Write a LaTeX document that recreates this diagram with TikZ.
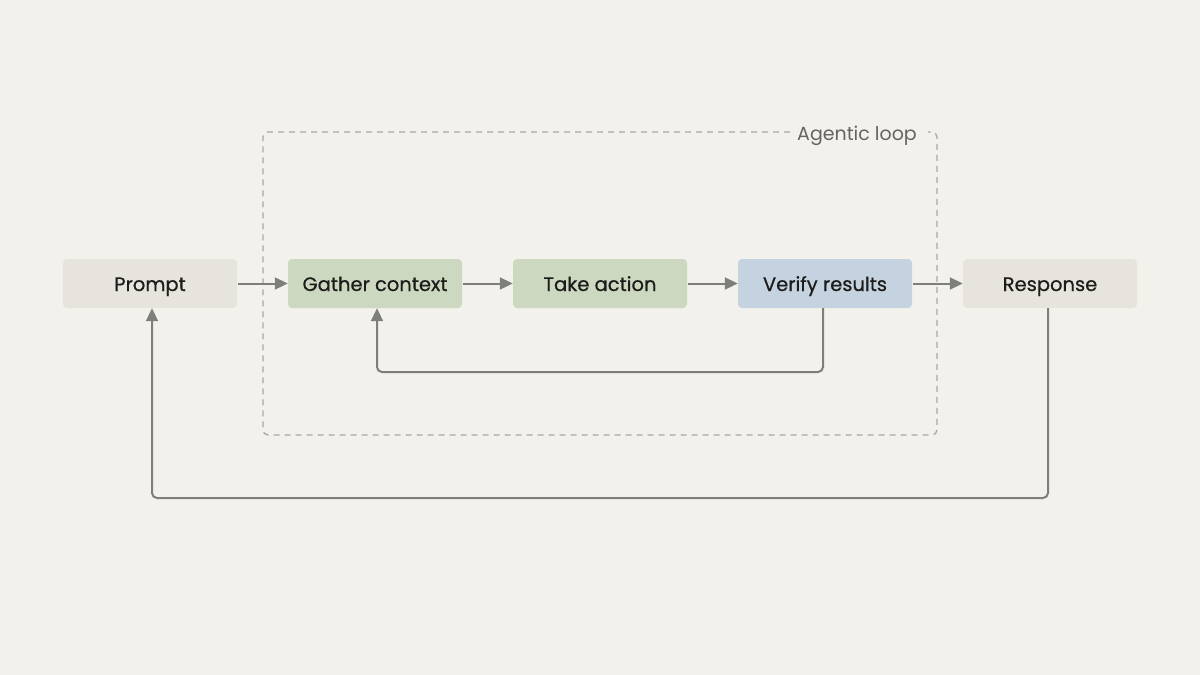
\documentclass[tikz,border=0pt]{standalone}
\usepackage{fontspec}
\setmainfont{Poppins}
\newfontfamily\boxfont{Poppins}[FakeBold=0.6]
\usetikzlibrary{arrows.meta}
\definecolor{bg}{HTML}{F3F1EB}
\definecolor{greybox}{HTML}{E6E4DC}
\definecolor{greenbox}{HTML}{CDD8C0}
\definecolor{bluebox}{HTML}{C5D3E0}
\definecolor{arrowc}{HTML}{7F7F7A}
\definecolor{dashc}{HTML}{A9A8A4}
\definecolor{txt}{HTML}{1C1C1A}
\definecolor{lbl}{HTML}{65645F}
\begin{document}
\begin{tikzpicture}[x=1pt,y=-1pt,
  stepbox/.style={rounded corners=4pt, minimum width=174pt, minimum height=49pt, inner sep=0pt,
    text height=15pt, text depth=0pt,
    text=txt, font=\boxfont\fontsize{19.5}{22}\selectfont, anchor=center},
  conn/.style={draw=arrowc, line width=2pt, -{Triangle[length=13pt,width=12pt]}, rounded corners=5pt},
]
\fill[bg] (0,0) rectangle (1200,675);
\useasboundingbox (0,0) rectangle (1200,675);
% dashed loop frame
\draw[dashc, line width=1.3pt, dash pattern=on 6pt off 5pt, rounded corners=5pt]
  (790,132) -- (263,132) -- (263,435) -- (937,435) -- (937,132) -- (928,132);
\node[text=lbl, font=\fontsize{19}{22}\selectfont, anchor=center, text height=14pt, text depth=0pt] (loopl) at (857,133) {Agentic loop};
% boxes
\node[stepbox, fill=greybox] (prompt) at (150,283.5) {Prompt};
\node[stepbox, fill=greenbox] (gather) at (375,283.5) {Gather context};
\node[stepbox, fill=greenbox] (take) at (600,283.5) {Take action};
\node[stepbox, fill=bluebox] (verify) at (825,283.5) {Verify results};
\node[stepbox, fill=greybox] (resp) at (1050,283.5) {Response};
% connectors
\draw[conn] (prompt.east) ++(1pt,0) -- (gather.west);
\draw[conn] (gather.east) ++(1pt,0) -- (take.west);
\draw[conn] (take.east) ++(1pt,0) -- (verify.west);
\draw[conn] (verify.east) ++(1pt,0) -- (resp.west);
\coordinate (v1) at (823,372);
\coordinate (g1) at (377,372);
\draw[conn] (verify.south -| v1) -- (v1) -- (g1) -- (gather.south -| g1);
\coordinate (r1) at (1048,498);
\coordinate (p1) at (152,498);
\draw[conn] (resp.south -| r1) -- (r1) -- (p1) -- (prompt.south -| p1);
\end{tikzpicture}
\end{document}
